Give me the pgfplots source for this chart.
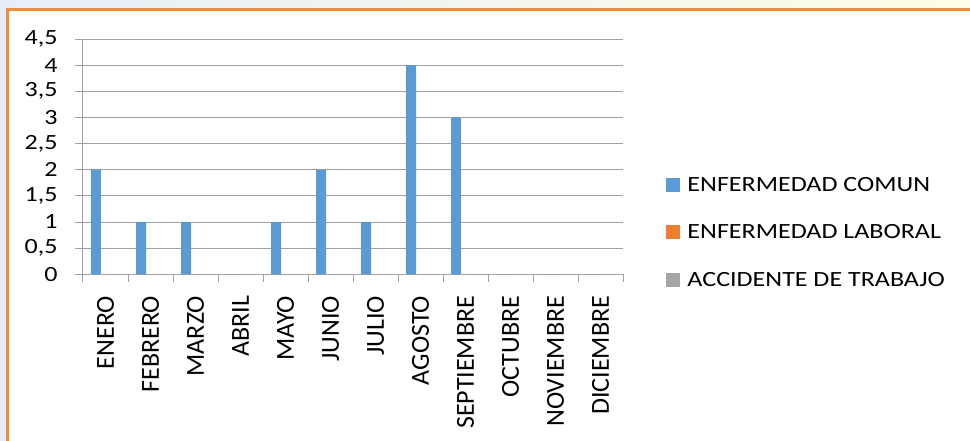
\documentclass[border=0pt]{standalone}
\usepackage{fontspec}
\setmainfont{Carlito}
\newfontfamily\hfont[FakeStretch=1.2]{Carlito}
\usepackage{pgfplots}
\pgfplotsset{compat=1.18}
\definecolor{barblue}{HTML}{5B9BD5}
\definecolor{barorange}{HTML}{ED7D31}
\definecolor{bargray}{HTML}{A5A5A5}
\definecolor{gridgray}{HTML}{A0A0A0}
\definecolor{frameorange}{HTML}{F08A3C}
\definecolor{bgleft}{HTML}{E6EFF8}
\definecolor{bgmid}{HTML}{CBF5DF}
\definecolor{bgright}{HTML}{FFFDE6}
\pgfplotsset{mylegend/.style={legend image code/.code={\fill (0pt,-7.4pt) rectangle (14pt,6.6pt);}}}
\begin{document}
\begin{tikzpicture}
\useasboundingbox (0,0) rectangle (970pt,-441pt);
\fill[white] (0,0) rectangle (970pt,-441pt);
\fill[bgleft] (0,0) rectangle (7pt,-441pt);
\shade[left color=bgleft, middle color=bgmid, right color=bgright] (0,0) rectangle (970pt,-8pt);
\draw[frameorange, line width=2.6pt] (7.3pt,-441pt) -- (7.3pt,-9.3pt) -- (970pt,-9.3pt);
\begin{axis}[
  at={(83pt,-274.3pt)}, anchor=south west,
  scale only axis, width=540pt, height=235.3pt,
  xmin=0.5, xmax=12.5, ymin=0, ymax=4.5,
  axis x line=bottom, axis y line=left,
  axis line style={-, draw=gridgray, line width=1pt},
  tick align=outside, major tick length=8pt,
  tick style={draw=gridgray, line width=1pt},
  xtick={0.5,1.5,...,12.5},
  x tick label as interval,
  xticklabels={ENERO,FEBRERO,MARZO,ABRIL,MAYO,JUNIO,JULIO,AGOSTO,SEPTIEMBRE,OCTUBRE,NOVIEMBRE,DICIEMBRE},
  xticklabel shift=10pt,
  xticklabel style={rotate=90, anchor=east, font=\fontsize{26}{26}\selectfont},
  ytick={0,0.5,1,1.5,2,2.5,3,3.5,4,4.5},
  yticklabels={0,{0,5},1,{1,5},2,{2,5},3,{3,5},4,{4,5}},
  yticklabel shift=14pt,
  yticklabel style={font=\hfont\fontsize{21.7}{22}\selectfont},
  ymajorgrids, grid style={draw=gridgray, line width=1pt},
  ybar, bar width=10pt,
  legend style={at={(1.0796,0.179)}, anchor=west, draw=none, fill=none,
    inner sep=0pt, outer sep=0pt, row sep=33.3pt, column sep=7.5pt,
    font=\hfont\fontsize{21.7}{22}\selectfont,
    nodes={inner sep=0pt, text height=13.8pt, text depth=0pt}},
  legend cell align=left,
]
\addplot[ybar, bar shift=-9.5pt, draw=none, fill=barblue, mylegend] coordinates {
(1,2) (2,1) (3,1) (4,0) (5,1) (6,2) (7,1) (8,4) (9,3) (10,0) (11,0) (12,0)};
\addlegendentry{ENFERMEDAD COMUN}
\addplot[ybar, bar shift=0pt, draw=none, fill=barorange, mylegend] coordinates {
(1,0) (2,0) (3,0) (4,0) (5,0) (6,0) (7,0) (8,0) (9,0) (10,0) (11,0) (12,0)};
\addlegendentry{ENFERMEDAD LABORAL}
\addplot[ybar, bar shift=9.5pt, draw=none, fill=bargray, mylegend] coordinates {
(1,0) (2,0) (3,0) (4,0) (5,0) (6,0) (7,0) (8,0) (9,0) (10,0) (11,0) (12,0)};
\addlegendentry{ACCIDENTE DE TRABAJO}
\end{axis}
\end{tikzpicture}
\end{document}
